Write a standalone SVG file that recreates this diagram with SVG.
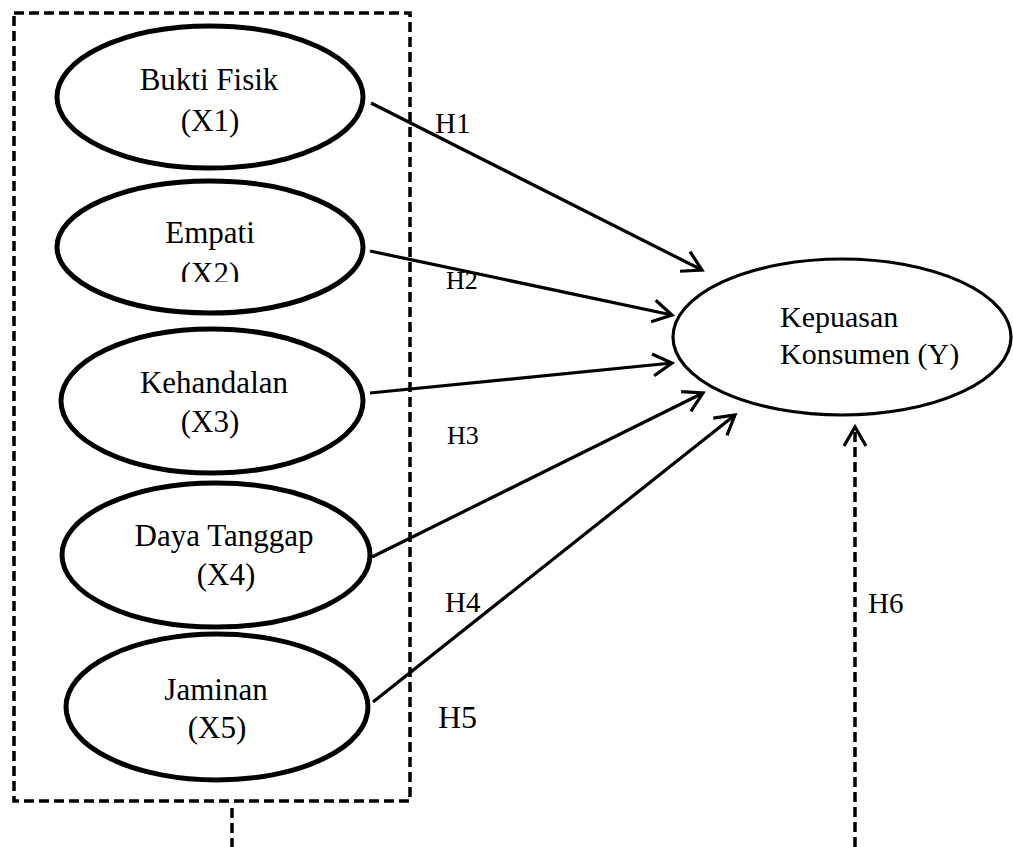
<svg xmlns="http://www.w3.org/2000/svg" width="1013" height="847" viewBox="0 0 1013 847">
<style>
  .bg { fill: #ffffff; }
  .node { fill: #ffffff; stroke: #000000; stroke-width: 5; }
  .nodey { fill: #ffffff; stroke: #000000; stroke-width: 3.2; }
  .lbl { font-family: "Liberation Serif", "Times New Roman", serif; font-size: 31px; fill: #000000; text-anchor: middle; }
  .lbly { font-family: "Liberation Serif", "Times New Roman", serif; font-size: 30px; fill: #000000; }
  .h { font-family: "Liberation Serif", "Times New Roman", serif; fill: #000000; }
  .arrow { fill: none; stroke: #000000; stroke-width: 3.2; marker-end: url(#open); }
  .dash { fill: none; stroke: #000000; stroke-width: 3.5; stroke-dasharray: 10 5; }
</style>
<defs>
  <marker id="open" markerUnits="userSpaceOnUse" markerWidth="40" markerHeight="40" viewBox="-30 -20 40 40" refX="0" refY="0" orient="auto">
    <path d="M-19,-11 L0,0 L-19,11" fill="none" stroke="#000000" stroke-width="3.2" stroke-linecap="butt" stroke-linejoin="miter"/>
  </marker>
  <clipPath id="clipx2">
    <rect x="100" y="200" width="220" height="82"/>
  </clipPath>
</defs>
<rect class="bg" x="0" y="0" width="1013" height="847"/>

<g id="group-box">
  <rect class="dash" x="14" y="13" width="396" height="788"/>
  <line class="dash" x1="232" y1="808" x2="232" y2="847"/>
</g>

<g id="connectors">
  <line class="arrow" x1="371" y1="103" x2="702" y2="270"/>
  <line class="arrow" x1="370" y1="251" x2="672" y2="315"/>
  <line class="arrow" x1="370" y1="393" x2="672" y2="363"/>
  <line class="arrow" x1="372" y1="557" x2="703" y2="393"/>
  <line class="arrow" x1="373" y1="702" x2="735" y2="415"/>
  <line class="dash" x1="855" y1="847" x2="855" y2="427" marker-end="url(#open)"/>
  <text class="h" x="435" y="133" font-size="29">H1</text>
  <text class="h" x="446" y="289" font-size="26">H2</text>
  <text class="h" x="447" y="444" font-size="26">H3</text>
  <text class="h" x="445" y="612" font-size="29">H4</text>
  <text class="h" x="438" y="728" font-size="32">H5</text>
  <text class="h" x="868" y="613" font-size="29">H6</text>
</g>

<g id="node-x1">
  <ellipse class="node" cx="210" cy="97" rx="153" ry="71"/>
  <text class="lbl" x="209" y="90">Bukti Fisik</text>
  <text class="lbl" x="210" y="131">(X1)</text>
</g>
<g id="node-x2">
  <ellipse class="node" cx="210" cy="247" rx="153" ry="66"/>
  <text class="lbl" x="210" y="243">Empati</text>
  <text class="lbl" x="210" y="284" clip-path="url(#clipx2)">(X2)</text>
</g>
<g id="node-x3">
  <ellipse class="node" cx="212" cy="401" rx="151" ry="72"/>
  <text class="lbl" x="214" y="393">Kehandalan</text>
  <text class="lbl" x="210" y="432">(X3)</text>
</g>
<g id="node-x4">
  <ellipse class="node" cx="216" cy="555" rx="154" ry="72"/>
  <text class="lbl" x="224" y="546">Daya Tanggap</text>
  <text class="lbl" x="226" y="585">(X4)</text>
</g>
<g id="node-x5">
  <ellipse class="node" cx="217" cy="707" rx="151" ry="73"/>
  <text class="lbl" x="216" y="700">Jaminan</text>
  <text class="lbl" x="217" y="738">(X5)</text>
</g>
<g id="node-y">
  <ellipse class="nodey" cx="842" cy="337" rx="169" ry="78"/>
  <text class="lbly" x="780" y="327">Kepuasan</text>
  <text class="lbly" x="780" y="364">Konsumen (Y)</text>
</g>
</svg>
